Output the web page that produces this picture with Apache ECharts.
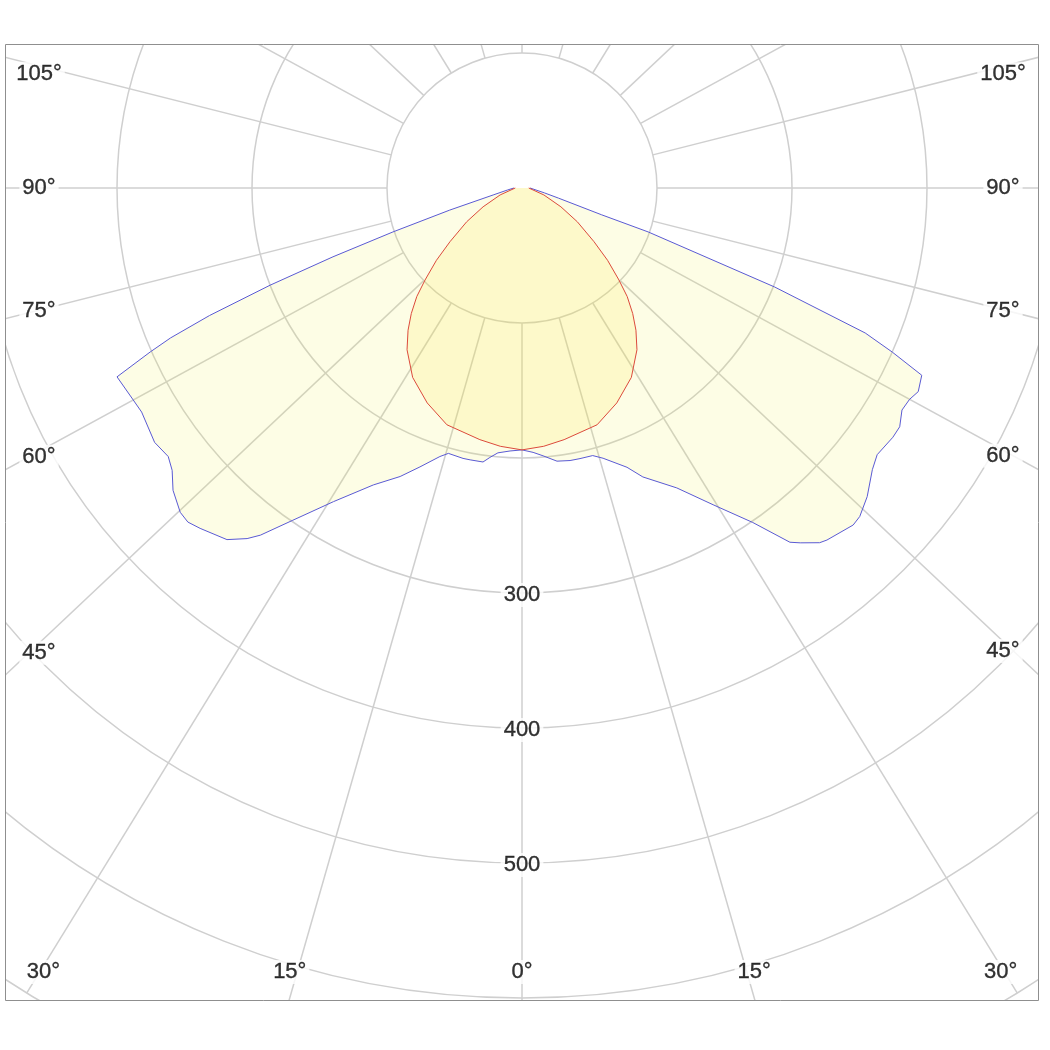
<!DOCTYPE html>
<html><head><meta charset="utf-8">
<script src="https://cdn.jsdelivr.net/npm/echarts@6/dist/echarts.min.js"></script>
<style>html,body{margin:0;padding:0;background:#fff}#c{width:1050px;height:1050px}</style>
</head><body><div id="c"></div>
<script>
// ---- axis data ----
const spokeNominal = [0, 15, 30, 45, 60, 75, 90, 105, 120, 135, 150, 165, 180];
const spokeScreen  = [0, 16, 31.6, 46.7, 61.4, 75.8, 90, 104.2, 118.6, 133.3, 148.4, 164.1, 180];
const radialTicks  = [100, 200, 300, 400, 500, 600, 700];
const radialLabels = [300, 400, 500];
const angleLabels  = [0, 15, 30, 45, 60, 75, 90, 105];
const angleLabelScreen = [0, 16.5, 31.4, 46.1, 60.9, 75.7, 90, 103.3];

// ---- C0-C180 plane (blue) ----
const blueAngles = [-90, -82, -76.4, -73, -71.2, -70, -68.9, -67.8, -66.9, -66.2, -65, -61.4, -59.5, -55.3, -52.8, -51.1, -49.1, -46.5, -45, -43.4, -40, -38.1, -37, -34.6, -31, -26.6, -22.9, -20.1, -17, -15.5, -12.3, -10.8, -8.1, -6.8, -5.2, -2.6, 0, 2.4, 4.5, 7.3, 10, 12.1, 14.8, 16.7, 20.6, 22.7, 27.3, 31.1, 34.6, 37.1, 38.1, 40, 40.9, 44.5, 45.8, 48.2, 51.2, 53.1, 56.1, 57.7, 59.7, 61.4, 62.8, 64.9, 66.1, 67.1, 68.6, 70.8, 71.4, 74.5, 77.7, 90];
const blueValues = [6, 11, 22, 56, 101, 149, 200, 250, 283, 301, 331, 328, 327, 331, 329, 333, 342, 349, 350, 347, 340, 330, 322, 299, 271, 246, 232, 220, 208, 204, 205, 205, 205, 201, 197, 195, 194, 196, 199, 204, 205, 205, 205, 209, 221, 232, 250, 274, 301, 329, 334, 343, 345, 350, 349, 343, 333, 329, 331, 331, 326, 327, 330, 327, 300, 276, 201, 99, 62, 28, 17, 6];

// ---- C90-C270 plane (red) ----
const redAngles = [-90, -72.4, -64.2, -58.6, -53.3, -49.8, -46.5, -44.1, -41.4, -38.7, -35.4, -30, -23.8, -17.6, -9.5, -4.8, 0, 4.8, 9.5, 17.6, 23.8, 30, 35.4, 38.7, 41.4, 44.1, 46.5, 49.8, 53.3, 58.6, 64.2, 72.4, 90];
const redValues = [5, 17, 32, 48, 66.5, 83, 99, 112, 124, 135, 147, 162, 174, 184, 189, 192, 194, 192, 189, 184, 174, 162, 147, 135, 124, 112, 99, 83, 66.5, 48, 32, 17, 5];

// ---- layout ----
const CENTER = [522, 188];
const OUTER_PX = 945;
const FRAME = {left: 5, top: 44, right: 1038, bottom: 1000};
const LABEL_BOX = {left: 39, right: 1003, bottom: 972};
const GRID_COLOR = '#cfcfcf';
const FONT = '"Liberation Sans", Arial, sans-serif';

const rMin = radialTicks[0], rMax = radialTicks[radialTicks.length - 1];
const innerPx = OUTER_PX * rMin / rMax;

const chart = echarts.init(document.getElementById('c'));

function angleAxis(i) {
  return {polarIndex: i, type: 'value', min: -180, max: 180, interval: 15, startAngle: 90, clockwise: false,
    axisLine: {show: false}, axisTick: {show: false}, axisLabel: {show: false}, splitLine: {show: false}};
}

const series = [];
spokeScreen.forEach((s) => {
  const signs = (s === 0 || s === 180) ? [1] : [-1, 1];
  signs.forEach(sg => {
    series.push({type: 'line', coordinateSystem: 'polar', polarIndex: 0, silent: true, symbol: 'none', z: 1,
      lineStyle: {color: GRID_COLOR, width: 1.5},
      data: [[rMin, sg * s], [rMax, sg * s]]});
  });
});
const blueIdx = series.length;
series.push({type: 'line', coordinateSystem: 'polar', polarIndex: 1, symbol: 'none', z: 3, silent: true,
  lineStyle: {color: '#5a5ad4', width: 1},
  areaStyle: {color: 'rgba(238,238,70,0.2)'},
  data: blueAngles.map((a, i) => [blueValues[i], a])});
series.push({type: 'line', coordinateSystem: 'polar', polarIndex: 1, symbol: 'none', z: 4, silent: true,
  lineStyle: {color: '#dc4a3c', width: 1},
  areaStyle: {color: 'rgba(255,232,50,0.22)'},
  data: redAngles.map((a, i) => [redValues[i], a])});

chart.setOption({
  animation: false,
  backgroundColor: '#fff',
  polar: [{center: CENTER, radius: [innerPx, OUTER_PX]}, {center: CENTER, radius: [0, OUTER_PX]}],
  angleAxis: [angleAxis(0), angleAxis(1)],
  radiusAxis: [
    {polarIndex: 0, type: 'value', min: rMin, max: rMax, interval: 100,
      axisLine: {show: false}, axisTick: {show: false}, axisLabel: {show: false},
      splitLine: {show: true, lineStyle: {color: GRID_COLOR, width: 1.5}}},
    {polarIndex: 1, type: 'value', min: 0, max: rMax, interval: 100,
      axisLine: {show: false}, axisTick: {show: false}, axisLabel: {show: false}, splitLine: {show: false}}
  ],
  series: series
});

// ---- labels placed via the polar scale ----
const c = chart.convertToPixel({seriesIndex: blueIdx}, [0, 0]);
const p = chart.convertToPixel({seriesIndex: blueIdx}, [100, 0]);
const scale = Math.hypot(p[0] - c[0], p[1] - c[1]) / 100;

const labelData = [];
radialLabels.forEach(v => labelData.push({value: [v, 0], name: String(v), label: {offset: [0, 2]}}));
angleLabels.forEach((n, k) => {
  const s = angleLabelScreen[k];
  const signs = n === 0 ? [1] : [-1, 1];
  signs.forEach(sg => {
    const q = chart.convertToPixel({seriesIndex: blueIdx}, [100, sg * s]);
    const dx = (q[0] - c[0]) / (100 * scale), dy = (q[1] - c[1]) / (100 * scale);
    let t = Infinity;
    if (dy > 1e-6) t = Math.min(t, (LABEL_BOX.bottom - c[1]) / dy);
    if (dx < -1e-6) t = Math.min(t, (LABEL_BOX.left - c[0]) / dx);
    if (dx > 1e-6) t = Math.min(t, (LABEL_BOX.right - c[0]) / dx);
    labelData.push({value: [t / scale, sg * s], name: n + '°'});
  });
});

series.push({type: 'scatter', coordinateSystem: 'polar', polarIndex: 1, silent: true, z: 10,
  symbolSize: 1, itemStyle: {color: 'rgba(0,0,0,0)'},
  label: {show: true, position: 'inside', formatter: '{b}', fontSize: 22, fontFamily: FONT,
    color: '#000', textBorderColor: '#000', textBorderWidth: 0.35,
    backgroundColor: '#fff', padding: [1, 3]},
  data: labelData});

chart.setOption({
  series: series,
  graphic: [
    {type: 'rect', z: 100, silent: true, shape: {x: 0, y: 0, width: 1050, height: FRAME.top}, style: {fill: '#fff'}},
    {type: 'rect', z: 100, silent: true, shape: {x: 0, y: FRAME.bottom, width: 1050, height: 1050 - FRAME.bottom}, style: {fill: '#fff'}},
    {type: 'rect', z: 100, silent: true, shape: {x: 0, y: 0, width: FRAME.left, height: 1050}, style: {fill: '#fff'}},
    {type: 'rect', z: 100, silent: true, shape: {x: FRAME.right, y: 0, width: 1050 - FRAME.right, height: 1050}, style: {fill: '#fff'}},
    {type: 'rect', z: 101, silent: true,
      shape: {x: FRAME.left + 0.5, y: FRAME.top + 0.5, width: FRAME.right - FRAME.left, height: FRAME.bottom - FRAME.top},
      style: {fill: 'none', stroke: '#8f8f8f', lineWidth: 1}}
  ]
});
</script></body></html>
